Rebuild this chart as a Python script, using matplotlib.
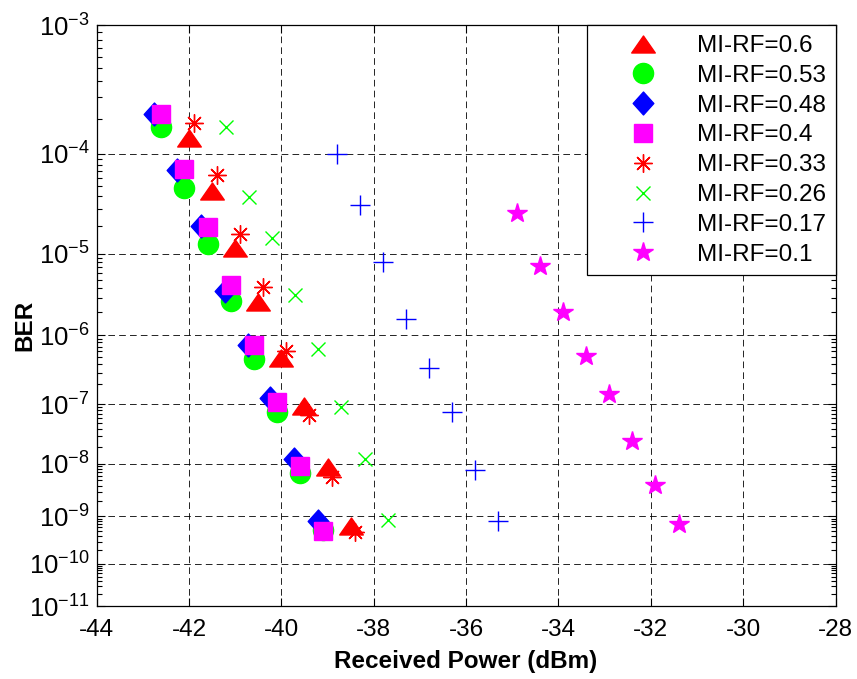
import matplotlib
matplotlib.use("Agg")
import matplotlib.pyplot as plt
import numpy as np
from matplotlib.path import Path
from matplotlib.ticker import FixedLocator, FixedFormatter

plt.rcParams['font.family'] = ['Liberation Sans', 'DejaVu Sans']
plt.rcParams['mathtext.fontset'] = 'custom'
plt.rcParams['mathtext.rm'] = 'Liberation Sans'
plt.rcParams['mathtext.it'] = 'Liberation Sans'

# received power (dBm) and BER for every MI-RF value
power_06 = [-42.0, -41.5, -41.0, -40.5, -40.0, -39.5, -39.0, -38.5]
ber_06 = [1.37e-4, 4.5e-5, 1.15e-5, 2.7e-6, 4.8e-7, 9.2e-8, 8.7e-9, 6.4e-10]
power_053 = [-42.6, -42.1, -41.6, -41.1, -40.6, -40.1, -39.6, -39.1]
ber_053 = [1.7e-4, 4.8e-5, 1.28e-5, 2.8e-6, 4.7e-7, 7.4e-8, 6.8e-9, 5.4e-10]
power_048 = [-42.75, -42.25, -41.75, -41.22, -40.72, -40.25, -39.73, -39.2]
ber_048 = [2.2e-4, 7.1e-5, 2.0e-5, 3.7e-6, 7.4e-7, 1.24e-7, 1.22e-8, 8.2e-10]
power_04 = [-42.6, -42.1, -41.6, -41.1, -40.6, -40.1, -39.6, -39.1]
ber_04 = [2.2e-4, 7.3e-5, 1.94e-5, 4.4e-6, 7.4e-7, 1.07e-7, 9.3e-9, 5.1e-10]
power_033 = [-41.9, -41.4, -40.9, -40.4, -39.9, -39.4, -38.9, -38.4]
ber_033 = [1.84e-4, 6.4e-5, 1.64e-5, 4.15e-6, 6.0e-7, 6.8e-8, 5.8e-9, 4.9e-10]
power_026 = [-41.2, -40.7, -40.2, -39.7, -39.2, -38.7, -38.2, -37.7]
ber_026 = [1.72e-4, 3.97e-5, 1.5e-5, 3.3e-6, 6.5e-7, 9.0e-8, 1.21e-8, 8.5e-10]
power_017 = [-38.8, -38.3, -37.8, -37.3, -36.8, -36.3, -35.8, -35.3]
ber_017 = [1.0e-4, 3.3e-5, 8.1e-6, 1.63e-6, 3.5e-7, 7.5e-8, 7.6e-9, 8.2e-10]
power_01 = [-34.9, -34.4, -33.9, -33.4, -32.9, -32.4, -31.9, -31.4]
ber_01 = [2.75e-5, 7.3e-6, 2.0e-6, 5.2e-7, 1.43e-7, 2.52e-8, 4.1e-9, 7.0e-10]

labels = ["MI-RF=0.6", "MI-RF=0.53", "MI-RF=0.48", "MI-RF=0.4",
          "MI-RF=0.33", "MI-RF=0.26", "MI-RF=0.17", "MI-RF=0.1"]
x_ticks = [-44, -42, -40, -38, -36, -34, -32, -30, -28]
y_exps = [-3, -4, -5, -6, -7, -8, -9, -10, -11]

# matlab style wide triangle / diamond
tri = Path([(-1, -0.72), (1, -0.72), (0, 0.72), (-1, -0.72)],
           [Path.MOVETO, Path.LINETO, Path.LINETO, Path.CLOSEPOLY])
dia = Path([(0, 1), (0.9, 0), (0, -1), (-0.9, 0), (0, 1)],
           [Path.MOVETO, Path.LINETO, Path.LINETO, Path.LINETO, Path.CLOSEPOLY])


def fwd(y):
    y = np.clip(y, 1e-300, 1 - 1e-12)
    return -np.log10(-np.log10(y))


def inv(z):
    return 10 ** (-(10 ** (-z)))


fig = plt.figure(figsize=(8.57, 6.79), dpi=100)
ax = fig.add_axes([0.1128, 0.1072, 0.8622, 0.8555])
ax.set_yscale('function', functions=(fwd, inv))

filled = dict(linestyle='none')
ax.plot(power_06, ber_06, marker=tri, ms=17, color='#ff0000', mec='#ff0000', label=labels[0], **filled)
ax.plot(power_053, ber_053, marker='o', ms=14.5, color='#00ff00', mec='#00ff00', label=labels[1], **filled)
ax.plot(power_048, ber_048, marker=dia, ms=16.5, color='#0000ff', mec='#0000ff', label=labels[2], **filled)
ax.plot(power_04, ber_04, marker='s', ms=12.5, color='#ff00ff', mec='#ff00ff', label=labels[3], **filled)
ax.plot(power_033, ber_033, marker=(8, 2, 0), ms=13, color='#ff0000', mew=1, label=labels[4], **filled)
ax.plot(power_026, ber_026, marker='x', ms=10.5, color='#00ff00', mew=1, label=labels[5], **filled)
ax.plot(power_017, ber_017, marker='+', ms=14, color='#0000ff', mew=1, label=labels[6], **filled)
ax.plot(power_01, ber_01, marker='*', ms=15, color='#ff00ff', mec='#ff00ff', label=labels[7], **filled)

ax.set_xlim(-44, -28)
ax.set_ylim(1e-11, 1e-3)
ax.set_xticks(x_ticks)
ax.set_xticklabels([str(t) for t in x_ticks])

ymaj = [10.0 ** e for e in y_exps]
ax.yaxis.set_major_locator(FixedLocator(ymaj))
ax.yaxis.set_major_formatter(FixedFormatter(['$10^{%d}$' % e for e in y_exps]))
ymin = [k * 10.0 ** e for e in range(-11, -3) for k in range(2, 10)]
ax.yaxis.set_minor_locator(FixedLocator(ymin))

ax.tick_params(which='both', direction='in', top=True, right=True, width=0.8)
ax.tick_params(which='major', length=6)
ax.tick_params(which='minor', length=3.5)
ax.tick_params(axis='x', which='minor', bottom=False, top=False)
ax.tick_params(axis='x', labelsize=17.5, pad=9.5)
ax.tick_params(axis='y', labelsize=18.5, pad=5)

ax.grid(True, which='major', color='k', linestyle=(0, (8, 5)), linewidth=0.6)
for s in ax.spines.values():
    s.set_linewidth(0.9)

ax.set_xlabel("Received Power (dBm)", fontsize=17.5, fontweight='bold', labelpad=6)
ax.set_ylabel("BER", fontsize=17.5, fontweight='bold')
ax.yaxis.set_label_coords(-0.081, 0.484)

leg = ax.legend(loc='upper right', borderaxespad=0, fontsize=17.5, fancybox=False,
                framealpha=1, edgecolor='k', handlelength=3.8, handletextpad=0.3,
                labelspacing=0.32, borderpad=0.4, numpoints=1)
leg.get_frame().set_linewidth(0.9)

fig.savefig("out.png", dpi=100, facecolor='white')
